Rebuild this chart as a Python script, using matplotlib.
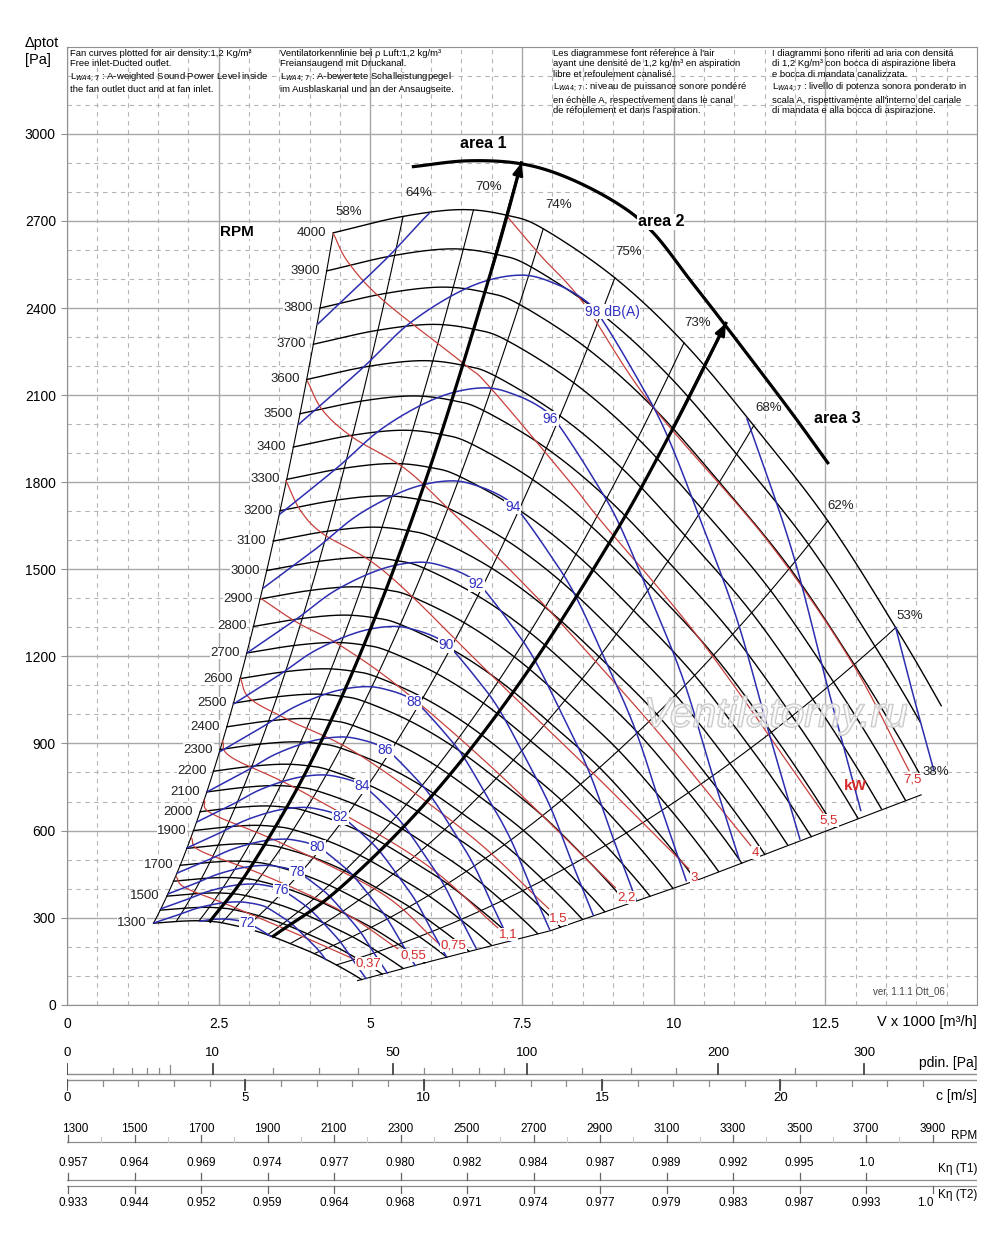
import numpy as np
import matplotlib.pyplot as plt
from matplotlib import patheffects

# fan curve at 4000 RPM (V x 1000 m3/h, Pa)
base_V = [4.39, 5.50, 6.49, 7.26, 7.85, 9.03, 10.17, 11.32, 12.54, 13.66, 14.41, 15.0]
base_p = [2659, 2714, 2739, 2719, 2673, 2504, 2280, 1995, 1667, 1299, 1030, 800]
rpm = list(range(1300, 4001, 100))
rpm_labels = list(range(4000, 1800, -100)) + [1700, 1500, 1300]
v_end_4000 = 14.41

# 38 % line closing the field at the bottom
bnd_V = [4.79, 6.04, 7.97, 10.45, 14.08]
bnd_p = [83, 152, 255, 434, 723]

# efficiency lines: flow on the 4000 RPM curve where each one starts
eff_names = ['58%', '64%', '70%', '74%', '75%', '73%', '68%', '62%', '53%', '38%']
eff_base_V = [4.39, 5.54, 6.70, 7.85, 9.03, 10.17, 11.32, 12.54, 13.66]
eff_lab_V = [4.64, 5.79, 6.95, 8.10, 9.26, 10.40, 11.57, 12.76, 13.89, 14.32]
eff_lab_p = [2732, 2797, 2818, 2756, 2594, 2349, 2057, 1719, 1340, 803]

# absorbed power lines (kW)
kw_text = ['0,37', '0,55', '0,75', '1,1', '1,5', '2,2', '3', '4', '5,5', '7,5']
kw_V = [
    [1.80, 1.95, 2.69, 3.85, 4.72],
    [2.05, 2.20, 3.19, 4.51, 5.45],
    [2.26, 2.39, 3.52, 5.17, 6.11],
    [2.56, 2.72, 3.85, 5.83, 7.10],
    [2.86, 3.02, 3.68, 4.84, 6.65, 7.94],
    [3.20, 3.80, 4.51, 5.55, 7.15, 9.04],
    [3.61, 3.85, 4.22, 5.00, 5.71, 6.87, 8.63, 10.25],
    [3.96, 4.22, 4.72, 5.55, 6.27, 7.43, 8.30, 9.79, 11.27],
    [4.39, 4.64, 5.22, 6.54, 6.98, 8.30, 8.80, 10.45, 12.46],
    [7.26, 7.81, 8.52, 9.62, 11.55, 12.92, 13.88],
]
kw_p = [
    [441, 403, 341, 238, 158],
    [575, 530, 451, 324, 193],
    [706, 658, 558, 386, 214],
    [909, 851, 737, 496, 265],
    [1123, 1054, 978, 858, 582, 331],
    [1399, 1316, 1237, 1082, 789, 403],
    [1805, 1702, 1622, 1529, 1402, 1161, 806, 468],
    [2149, 2046, 1953, 1850, 1712, 1471, 1278, 927, 548],
    [2656, 2556, 2425, 2208, 2125, 1798, 1667, 1254, 661],
    [2714, 2580, 2415, 2070, 1598, 1185, 806],
]
kw_lab_V = [4.97, 5.71, 6.37, 7.28, 8.10, 9.22, 10.33, 11.35, 12.56, 13.94]
kw_lab_p = [141, 169, 203, 241, 296, 369, 437, 524, 634, 775]

# sound power lines: the 96 dB(A) line, the others start higher / lower on the left edge
db96_V = [3.515, 4.455, 5.215, 6.106, 6.865, 7.426, 7.888, 8.135, 8.630, 9.076, 9.620, 10.165, 10.644, 11.139]
db96_p = [1691, 1850, 1988, 2091, 2125, 2098, 2046, 1988, 1829, 1667, 1402, 1116, 789, 462]
db96_lab = (7.97, 2019)
db_levels = [72, 74, 76, 78, 80, 82, 84, 86, 88, 90, 92, 94, 96, 98, 100]
db_start_p = [235, 282, 331, 382, 454, 541, 630, 734, 872, 1037, 1213, 1436, 1691, 2000, 2346]
db_text = ['72', '', '76', '78', '80', '82', '84', '86', '88', '90', '92', '94', '96', '98 dB(A)', '']
db_edge_V = [13.66, 13.96, 14.29]
db_edge_p = [1299, 1058, 806]

# working areas
area1_V = [2.36, 3.0, 4.0, 5.0, 6.0, 7.0, 7.49]
area1_p = [288, 465, 827, 1293, 1861, 2533, 2900]
area2_V = [3.40, 4.5, 6.0, 7.5, 9.0, 10.0, 10.86]
area2_p = [236, 402, 716, 1120, 1612, 1990, 2347]
arc_V = [5.71, 6.60, 7.48, 8.25, 9.08, 9.66, 10.28, 10.83, 11.88, 12.54]
arc_p = [2887, 2907, 2897, 2849, 2759, 2660, 2494, 2346, 2057, 1867]

# bottom scales
pdin_major = [0, 10, 50, 100, 200, 300]
pdin_minor = [1, 2, 3, 4, 5, 20, 30, 40, 60, 70, 80, 90, 125, 150, 175, 250]
c_major = [0, 5, 10, 15, 20]
c_minor = list(range(0, 25))
outlet_area = 0.1633
rho = 1.2
rpm_scale = list(range(1300, 4000, 100))
k_t1 = ['0.957', '0.964', '0.969', '0.974', '0.977', '0.980', '0.982', '0.984',
        '0.987', '0.989', '0.992', '0.995', '1.0']
k_t2 = ['0.933', '0.944', '0.952', '0.959', '0.964', '0.968', '0.971', '0.974',
        '0.977', '0.979', '0.983', '0.987', '0.993', '1.0']

BLUE = '#2d2db0'
RED = '#c8403c'
plt.rcParams['font.family'] = ['Liberation Sans', 'DejaVu Sans']


def smooth(xs, ys, n=20):
    # Catmull-Rom through the read points
    P = np.column_stack([xs, ys]).astype(float)
    P = np.vstack([2 * P[0] - P[1], P, 2 * P[-1] - P[-2]])
    t = np.linspace(0, 1, n, endpoint=False)[:, None]
    out = []
    for i in range(1, len(P) - 2):
        p0, p1, p2, p3 = P[i - 1], P[i], P[i + 1], P[i + 2]
        out.append(0.5 * (2 * p1 + (-p0 + p2) * t + (2 * p0 - 5 * p1 + 4 * p2 - p3) * t ** 2
                          + (-p0 + 3 * p1 - 3 * p2 + p3) * t ** 3))
    out.append(P[-2][None])
    out = np.vstack(out)
    return out[:, 0], out[:, 1]


bv, bp = smooth(base_V, base_p, 40)
s_min = rpm[0] / 4000
k58 = bp[0] / bv[0] ** 2


def p_on(V, s):
    return s * s * np.interp(V / s, bv, bp, left=np.nan, right=np.nan)


def bnd(V):
    return np.interp(V, bnd_V, bnd_p, left=-np.inf, right=np.inf)


def inside(V, p):
    top = p_on(V, 1.0)
    top = np.where(V < bv[0], k58 * V ** 2, top)
    top = np.where(V > v_end_4000, -np.inf, top)
    low = p_on(V, s_min)
    low = np.where(np.isnan(low), -np.inf, low)
    low = np.where(V < bv[0] * s_min, np.inf, low)
    low = np.maximum(low, bnd(V))
    return (p <= top + 2) & (p >= low - 2) & (p <= k58 * V ** 2 + 2)


fig = plt.figure(figsize=(10, 12.43), dpi=100)
ax = fig.add_axes([0.067, 0.1917, 0.910, 0.7707])
ax.set_xlim(0, 15)
ax.set_ylim(0, 3300)
ax.set_xticks(np.arange(0, 13, 2.5))
ax.set_xticklabels(['0', '2.5', '5', '7.5', '10', '12.5'])
ax.set_xticks(np.arange(0, 15.01, 0.5), minor=True)
ax.set_yticks(np.arange(0, 3001, 300))
ax.set_yticks(np.arange(0, 3301, 100), minor=True)
ax.grid(which='major', color='#a8a8a8', lw=1.0)
ax.grid(which='minor', color='#b4b4b4', lw=0.8, ls=(0, (4, 4)))
ax.set_axisbelow(True)
for sp in ax.spines.values():
    sp.set_color('#909090')
ax.tick_params(axis='x', length=0, pad=9, labelsize=10)
ax.tick_params(axis='y', length=4, color='#909090', pad=4, labelsize=10)
ax.tick_params(which='minor', length=0)

# fan curves
for n in rpm:
    s = n / 4000
    V = bv * s
    p = bp * s * s
    if n == 4000:
        keep = V <= v_end_4000
    else:
        keep = p >= bnd(V)
    ax.plot(V, np.where(keep, p, np.nan), color='k', lw=1.0, zorder=3)
    if n in rpm_labels:
        ax.annotate(str(n), (V[0], p[0]), xytext=(-5, 0), textcoords='offset points',
                    ha='right', va='center', fontsize=9.5, color='#222', zorder=6,
                    bbox=dict(fc='white', ec='none', pad=0.3))
ax.text(2.80, 2663, 'RPM', fontsize=11, fontweight='bold', ha='center', va='center', zorder=6,
        bbox=dict(fc='white', ec='none', pad=0.3))

# efficiency lines
s_range = np.linspace(s_min, 1, 60)
for vb in eff_base_V:
    pb = np.interp(vb, bv, bp)
    ax.plot(vb * s_range, pb * s_range ** 2, color='k', lw=0.8, zorder=2)
ax.plot(bnd_V, bnd_p, color='k', lw=0.8, zorder=2)
for x, y, t in zip(eff_lab_V, eff_lab_p, eff_names):
    ax.text(x, y, t, fontsize=9.5, color='#222', ha='center', va='center', zorder=6)

# power lines
for V, p in zip(kw_V, kw_p):
    x, y = smooth(V, p, 12)
    ax.plot(x, y, color=RED, lw=0.9, zorder=3)
for x, y, t in zip(kw_lab_V, kw_lab_p, kw_text):
    ax.text(x, y, t, fontsize=9.5, color='#d42a2a', ha='center', va='center', zorder=6,
            bbox=dict(fc='white', ec='none', pad=0.3))
ax.text(13.0, 754, 'kW', fontsize=11, fontweight='bold', color='#d42a2a', ha='center', va='center',
        zorder=6)

# sound lines
dv, dp = smooth(db96_V, db96_p, 16)
p96 = db_start_p[db_levels.index(96)]
for lev, ps, txt in zip(db_levels, db_start_p, db_text):
    s = np.sqrt(ps / p96)
    V = dv * s
    p = dp * s * s
    ok = inside(V, p)
    ax.plot(V, np.where(ok, p, np.nan), color=BLUE, lw=1.1, zorder=4)
    if txt:
        lx, ly = db96_lab[0] * s, db96_lab[1] * s * s
        if 'dB' in txt:
            ax.annotate(txt, (lx, ly), xytext=(-6, 0), textcoords='offset points', ha='left',
                        va='center', fontsize=10, color='#3030c0', zorder=6,
                        bbox=dict(fc='white', ec='none', pad=0.3))
        else:
            ax.text(lx, ly, txt, fontsize=10, color='#3030c0', ha='center', va='center', zorder=6,
                    bbox=dict(fc='white', ec='none', pad=0.3))
ax.plot(*smooth(db_edge_V, db_edge_p, 10), color=BLUE, lw=1.1, zorder=4)

# areas
ax.plot(*smooth(area1_V, area1_p, 12), color='k', lw=2.3, zorder=5)
ax.plot(*smooth(area2_V, area2_p, 12), color='k', lw=2.3, zorder=5)
ax.plot(*smooth(arc_V, arc_p, 12), color='k', lw=2.3, zorder=5)
for av, ap in ((area1_V, area1_p), (area2_V, area2_p)):
    ax.annotate('', xy=(av[-1], ap[-1]), xytext=(av[-2], ap[-2]), zorder=5,
                arrowprops=dict(arrowstyle='-|>,head_length=0.7,head_width=0.3', color='k', lw=2,
                                shrinkA=0, shrinkB=0))
lab = dict(fontsize=11.5, fontweight='bold', ha='center', va='center', zorder=6,
           bbox=dict(fc='white', ec='none', pad=0.2))
ax.text(6.87, 2966, 'area 1', **lab)
ax.text(9.79, 2697, 'area 2', **lab)
ax.text(12.69, 2019, 'area 3', **lab)

ax.text(11.68, 996, 'Ventilatorny.ru', fontsize=30, style='italic', color=(1, 1, 1, 0.45),
        ha='center', va='center', zorder=7,
        path_effects=[patheffects.withStroke(linewidth=1.2, foreground='#c4c4c4')])
ax.text(13.88, 48, 'ver. 1.1.1 Ott_06', fontsize=7, color='#444', ha='center', va='center')

# header texts
fig.text(0.025, 1 - 36 / 1243, '\u0394ptot\n[Pa]', fontsize=10.5, va='top', ha='left',
         linespacing=1.3)
hdr = dict(fontsize=6.8, va='top', ha='left', linespacing=1.2)
fig.text(0.070, 1 - 49 / 1243,
         'Fan curves plotted for air density:1,2 Kg/m\u00b3\nFree inlet-Ducted outlet.\n'
         'L$_{WA4;7}$ : A-weighted Sound Power Level inside\nthe fan outlet duct and at fan inlet.', **hdr)
fig.text(0.280, 1 - 49 / 1243,
         'Ventilatorkennlinie bei \u03c1 Luft:1,2 kg/m\u00b3\nFreiansaugend mit Druckanal.\n'
         'L$_{WA4;7}$ : A-bewertete Schalleistungpegel\nim Ausblaskanal und an der Ansaugseite.', **hdr)
fig.text(0.553, 1 - 49 / 1243,
         "Les diagrammese font r\u00e9ference \u00e0 l'air\nayant une densit\u00e9 de 1,2 kg/m\u00b3 en aspiration\n"
         "libre et refoulement canalis\u00e9.\nL$_{WA4;7}$ : niveau de puissance sonore pond\u00e9r\u00e9\n"
         "en \u00e9chelle A, respectivement dans le canal\nde r\u00e9foulement et dans l'aspiration.", **hdr)
fig.text(0.772, 1 - 49 / 1243,
         "I diagrammi sono riferiti ad aria con densit\u00e1\ndi 1,2 Kg/m\u00b3 con bocca di aspirazione libera\n"
         "e bocca di mandata canalizzata.\nL$_{WA4;7}$ : livello di potenza sonora ponderato in\n"
         "scala A, rispettivamente all'interno del canale\ndi mandata e alla bocca di aspirazione.", **hdr)

# bottom scales, y in pixel rows
sc = fig.add_axes([0.067, 0.0, 0.910, 233 / 1243])
sc.set_xlim(0, 15)
sc.set_ylim(1243, 1010)
sc.axis('off')
GR = '#8c8c8c'
narrow = ['Liberation Sans Narrow', 'Liberation Sans', 'DejaVu Sans']


def v_from_c(c):
    return np.asarray(c, float) * outlet_area * 3.6


def v_from_pd(P):
    return v_from_c(np.sqrt(2 * np.asarray(P, float) / rho))


sc.text(15.0, 1022, 'V x 1000 [m\u00b3/h]', ha='right', va='center', fontsize=10.5)

sc.plot([0, 15], [1074, 1074], color=GR, lw=1)
for P in pdin_minor:
    x = v_from_pd(P)
    sc.plot([x, x], [1074, 1065 if P == 5 else 1068], color=GR, lw=0.9)
for P in pdin_major:
    x = v_from_pd(P)
    sc.plot([x, x], [1074, 1064], color='#444', lw=1.3)
    sc.text(x, 1053, str(P), ha='center', va='center', fontsize=9.5)
sc.text(15.0, 1063, 'pdin. [Pa]', ha='right', va='center', fontsize=10)

sc.plot([0, 15], [1080, 1080], color=GR, lw=1)
for c in c_minor:
    x = v_from_c(c)
    sc.plot([x, x], [1080, 1086], color=GR, lw=0.9)
for c in c_major:
    x = v_from_c(c)
    sc.plot([x, x], [1080, 1090], color='#444', lw=1.3)
    sc.text(x, 1098, str(c), ha='center', va='center', fontsize=9.5)
sc.text(15.0, 1096, 'c [m/s]', ha='right', va='center', fontsize=10)

rpm_x = [0.0165 + (r - 1300) * 14.25 / 2600 for r in rpm_scale]
sc.plot([0, 15], [1142, 1142], color=GR, lw=0.9)
sc.plot([0, 15], [1180, 1180], color=GR, lw=0.9)
sc.plot([0, 15], [1186, 1186], color=GR, lw=0.9)
for i, (r, x) in enumerate(zip(rpm_scale, rpm_x)):
    if r % 200 == 100:
        sc.plot([x, x], [1142, 1135], color='#666', lw=0.9)
        sc.text(x + (0.12 if i == 0 else 0), 1129, str(r), ha='center', va='center', fontsize=8.5,
                family=narrow)
    else:
        sc.plot([x, x], [1142, 1137], color='#c8c8c8', lw=0.8)
for i, (x, t) in enumerate(zip(rpm_x[::2], k_t1)):
    sc.plot([x, x], [1180, 1173], color='#666', lw=0.9)
    sc.text(x + (0.09 if i == 0 else 0), 1163, t, ha='center', va='center', fontsize=8.5,
            family=narrow)
for i, (x, t) in enumerate(zip(rpm_x[::2], k_t2)):
    sc.plot([x, x], [1186, 1193], color='#666', lw=0.9)
    dx = 0.09 if i == 0 else (-0.12 if i == len(k_t2) - 1 else 0)
    sc.text(x + dx, 1203, t, ha='center', va='center', fontsize=8.5, family=narrow)
sc.text(15.0, 1136, 'RPM', ha='right', va='center', fontsize=8.5, family=narrow)
sc.text(15.0, 1169, 'K\u03b7 (T1)', ha='right', va='center', fontsize=8.5, family=narrow)
sc.text(15.0, 1195, 'K\u03b7 (T2)', ha='right', va='center', fontsize=8.5, family=narrow)

fig.savefig('out.png', dpi=100)
